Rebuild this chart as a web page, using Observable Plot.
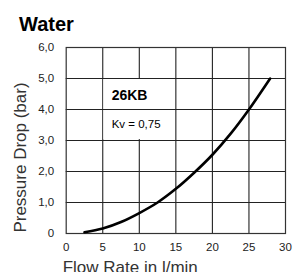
<!DOCTYPE html>
<html>
<head>
<meta charset="utf-8">
<script src="https://cdn.jsdelivr.net/npm/d3@7"></script>
<script src="https://cdn.jsdelivr.net/npm/@observablehq/plot@0.6"></script>
<style>
  html, body { margin: 0; padding: 0; background: #fff; }
  body { position: relative; width: 297px; height: 272px; overflow: hidden; font-family: "Liberation Sans", Arial, sans-serif; }
  #title { height: 36px; box-sizing: border-box; padding: 14px 0 0 19px; font-size: 20px; line-height: 20px; font-weight: bold; color: #000; }
  #chart svg { display: block; overflow: visible; }
  .ann { position: absolute; white-space: nowrap; }
  #model { left: 111.7px; top: 88.2px; font-size: 14px; line-height: 14px; font-weight: bold; color: #000; }
  #kv { left: 111.7px; top: 119.3px; font-size: 11.5px; line-height: 11.5px; color: #000; }
  #xlabel { left: 62.7px; top: 258.6px; font-size: 17px; line-height: 17px; color: #333; }
</style>
</head>
<body>
<div id="title">Water</div>
<div id="chart"></div>
<div id="model" class="ann"></div>
<div id="kv" class="ann"></div>
<div id="xlabel" class="ann"></div>
<script>
// Data
const flowRate = [2.5, 5, 7.5, 10, 12.5, 15, 17.5, 20, 22.5, 25, 27.9];
const pressureDrop = [0.04, 0.16, 0.37, 0.66, 1.0, 1.44, 1.96, 2.54, 3.22, 4.0, 5.0];
const xTicks = [0, 5, 10, 15, 20, 25, 30];
const yTicks = [0, 1, 2, 3, 4, 5, 6];
const yTickLabels = ["0", "1,0", "2,0", "3,0", "4,0", "5,0", "6,0"];
const xLabel = "Flow Rate in l/min";
const yLabel = "Pressure Drop (bar)";
const modelName = "26KB";
const kvText = "Kv = 0,75";

const curve = flowRate.map((q, i) => ({q, p: pressureDrop[i]}));
const gridX = xTicks.slice(1, -1);
const gridY = yTicks.slice(1, -1);

const chart = Plot.plot({
  width: 297,
  height: 236,
  marginLeft: 65.7,
  marginRight: 12,
  marginTop: 11,
  marginBottom: 39,
  style: {fontFamily: "'Liberation Sans', Arial, sans-serif", color: "#222", background: "#fff", overflow: "visible"},
  x: {domain: [0, 30]},
  y: {domain: [0, 6]},
  marks: [
    Plot.gridX({ticks: gridX, stroke: "#222", strokeWidth: 1.1, strokeOpacity: 1}),
    Plot.rect([{x1: 5.15, x2: 14.85, y1: 3.03, y2: 4.97}], {x1: "x1", x2: "x2", y1: "y1", y2: "y2", fill: "#fff"}),
    Plot.gridY({ticks: gridY, stroke: "#222", strokeWidth: 1.1, strokeOpacity: 1}),
    Plot.frame({stroke: "#333", strokeWidth: 1.2}),
    Plot.axisX({ticks: xTicks, tickSize: 0, tickPadding: 9, label: null, fontSize: 11.5, fill: "#222"}),
    Plot.axisY({ticks: yTicks, tickFormat: (d) => yTickLabels[yTicks.indexOf(d)], tickSize: 0, tickPadding: 12, label: null, fontSize: 11.5, fill: "#222"}),
    Plot.line(curve, {x: "q", y: "p", curve: "catmull-rom", stroke: "#000", strokeWidth: 2.6}),
    Plot.text([yLabel], {frameAnchor: "left", text: d => d, rotate: -90, dx: -46, dy: 17, fontSize: 17, fill: "#333", textAnchor: "middle"})
  ]
});
document.getElementById("chart").appendChild(chart);
document.getElementById("model").textContent = modelName;
document.getElementById("kv").textContent = kvText;
document.getElementById("xlabel").textContent = xLabel;
</script>
</body>
</html>
